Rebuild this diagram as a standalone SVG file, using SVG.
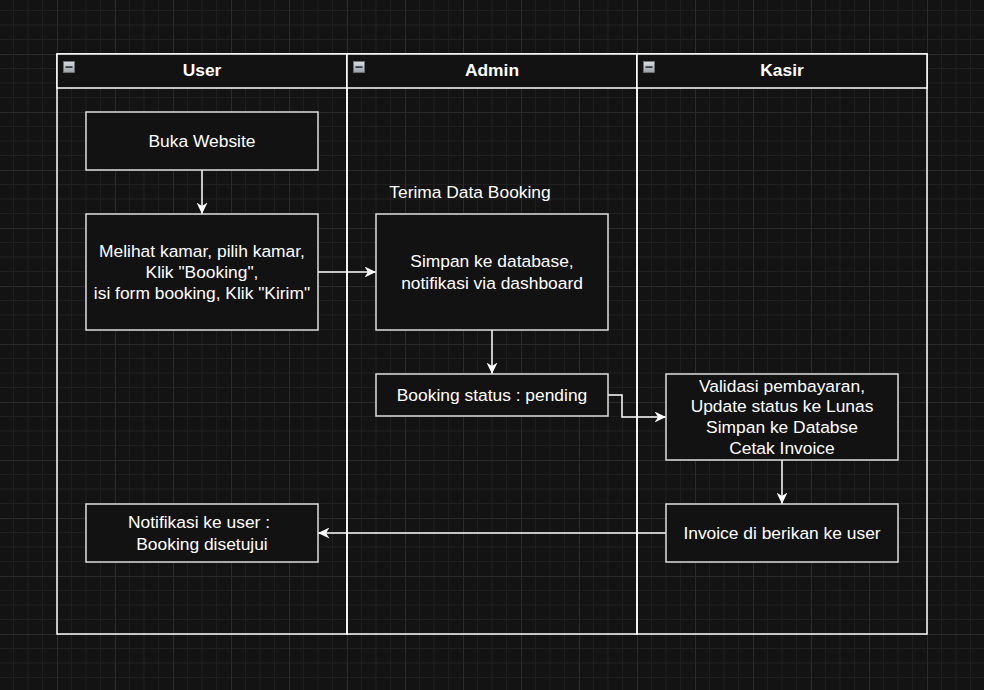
<svg xmlns="http://www.w3.org/2000/svg" width="984" height="690" viewBox="0 0 984 690">
  <defs>
    <pattern id="grid" patternUnits="userSpaceOnUse" x="-1" y="-4" width="58" height="58">
      <path d="M14.5 0V58M29 0V58M43.5 0V58M0 14.5H58M0 29H58M0 43.5H58" stroke="#1f1f1f" stroke-width="1" fill="none"/>
      <path d="M0.5 0V58M0 0.5H58" stroke="#2b2b2b" stroke-width="1" fill="none"/>
    </pattern>
    <linearGradient id="icon" x1="0" y1="0" x2="0" y2="1">
      <stop offset="0" stop-color="#d8dde3"/>
      <stop offset="1" stop-color="#9aa1a8"/>
    </linearGradient>
    <marker id="arrow" markerUnits="userSpaceOnUse" viewBox="0 0 12 11" refX="11.5" refY="5.5" markerWidth="12" markerHeight="11" orient="auto">
      <path d="M0 0L11.5 5.5L0 11L3.5 5.5Z" fill="#ffffff"/>
    </marker>
  </defs>
  <style>
    .lane { fill: none; stroke: #ffffff; stroke-width: 1.5; }
    .hdr { fill: #121212; stroke: #ffffff; stroke-width: 1.5; }
    .box { fill: #121212; stroke: #dedede; stroke-width: 1.5; }
    .conn { fill: none; stroke: #ffffff; stroke-width: 1.5; marker-end: url(#arrow); }
    text { font-family: "Liberation Sans", Arial, sans-serif; font-size: 17.4px; fill: #ffffff; text-anchor: middle; }
    .title { font-weight: bold; }
    .iconbox { fill: url(#icon); stroke: #6f757b; stroke-width: 0.8; }
  </style>
  <rect width="984" height="690" fill="#131313"/>
  <rect width="984" height="690" fill="url(#grid)"/>

  <g id="lane-user">
    <rect class="lane" x="57" y="54" width="290" height="580"/>
    <rect class="hdr" x="57" y="54" width="290" height="34"/>
    <rect class="iconbox" x="63.5" y="61.5" width="11" height="11"/>
    <rect x="65.5" y="66.3" width="7" height="1.6" fill="#2a2a2a"/>
    <text class="title" x="202" y="76">User</text>
  </g>
  <g id="lane-admin">
    <rect class="lane" x="347" y="54" width="290" height="580"/>
    <rect class="hdr" x="347" y="54" width="290" height="34"/>
    <rect class="iconbox" x="353.5" y="61.5" width="11" height="11"/>
    <rect x="355.5" y="66.3" width="7" height="1.6" fill="#2a2a2a"/>
    <text class="title" x="492" y="76">Admin</text>
  </g>
  <g id="lane-kasir">
    <rect class="lane" x="637" y="54" width="290" height="580"/>
    <rect class="hdr" x="637" y="54" width="290" height="34"/>
    <rect class="iconbox" x="643.5" y="61.5" width="11" height="11"/>
    <rect x="645.5" y="66.3" width="7" height="1.6" fill="#2a2a2a"/>
    <text class="title" x="782" y="76">Kasir</text>
  </g>

  <g id="connectors">
    <path class="conn" d="M202 170V214"/>
    <path class="conn" d="M318 272H376"/>
    <path class="conn" d="M492 330V374"/>
    <path class="conn" d="M608 395H622V417H666"/>
    <path class="conn" d="M782 460V504"/>
    <path class="conn" d="M666 533H318"/>
  </g>

  <g id="buka-website">
    <rect class="box" x="86" y="112" width="232" height="58"/>
    <text x="202" y="147">Buka Website</text>
  </g>
  <g id="melihat-kamar">
    <rect class="box" x="86" y="214" width="232" height="116"/>
    <text x="202" y="257">Melihat kamar, pilih kamar,</text>
    <text x="202" y="278">Klik "Booking",</text>
    <text x="202" y="298.5">isi form booking, Klik "Kirim"</text>
  </g>
  <g id="terima-data-booking">
    <text x="470" y="198">Terima Data Booking</text>
  </g>
  <g id="simpan-database">
    <rect class="box" x="376" y="214" width="232" height="116"/>
    <text x="492" y="267">Simpan ke database,</text>
    <text x="492" y="288.5">notifikasi via dashboard</text>
  </g>
  <g id="booking-status">
    <rect class="box" x="376" y="374" width="232" height="42"/>
    <text x="492" y="401">Booking status : pending</text>
  </g>
  <g id="validasi">
    <rect class="box" x="666" y="374" width="232" height="86"/>
    <text x="782" y="391.5">Validasi pembayaran,</text>
    <text x="782" y="412">Update status ke Lunas</text>
    <text x="782" y="433">Simpan ke Databse</text>
    <text x="782" y="453.5">Cetak Invoice</text>
  </g>
  <g id="invoice">
    <rect class="box" x="666" y="504" width="232" height="58"/>
    <text x="782" y="539">Invoice di berikan ke user</text>
  </g>
  <g id="notifikasi">
    <rect class="box" x="86" y="504" width="232" height="58"/>
    <text x="199" y="527.5">Notifikasi ke user :</text>
    <text x="202" y="549.5">Booking disetujui</text>
  </g>
</svg>
